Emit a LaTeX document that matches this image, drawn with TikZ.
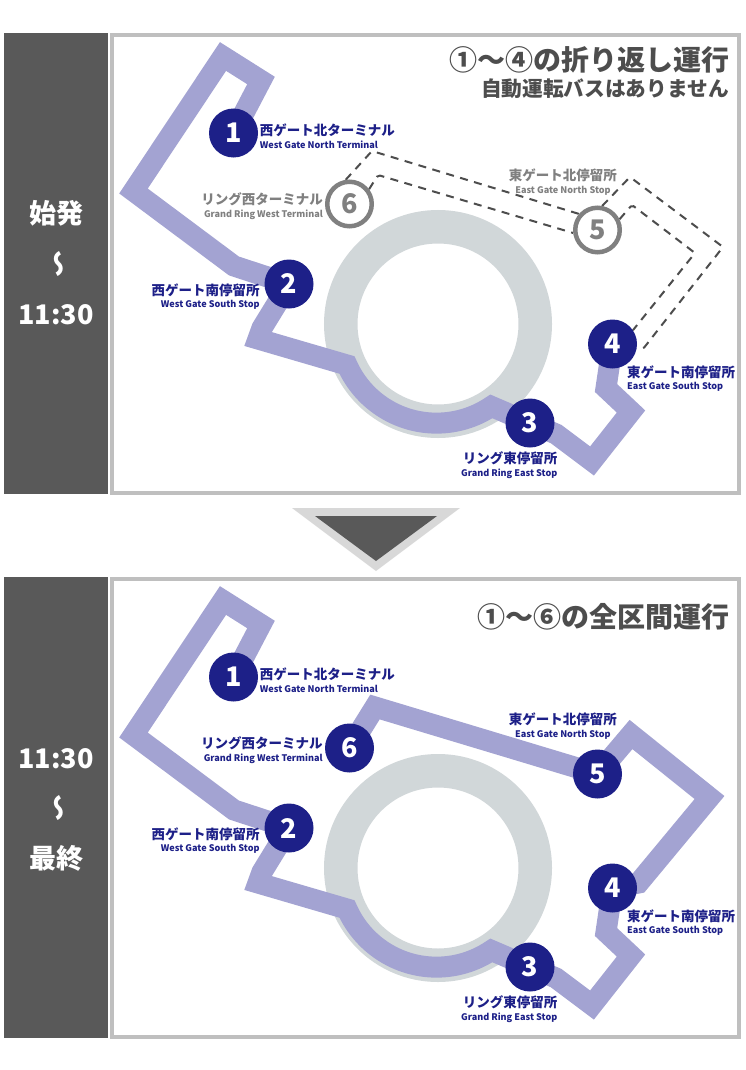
\documentclass[tikz,border=0pt]{standalone}
\usepackage{fontspec}
\setmainfont{Noto Sans CJK JP}
\usepackage{xcolor}
\usetikzlibrary{positioning,backgrounds}
\definecolor{navy}{HTML}{1D2088}
\definecolor{routec}{HTML}{A3A3D2}
\definecolor{ringc}{HTML}{D1D7D9}
\definecolor{darkc}{HTML}{595959}
\definecolor{edgec}{HTML}{BFBFBF}
\definecolor{offc}{HTML}{808080}
\definecolor{titlec}{HTML}{4D4D4D}
\begin{document}
\begin{tikzpicture}[x=1pt,y=-1pt,
	panel/.style={
		draw=edgec, line width=4pt, fill=white,
		minimum width=627pt, minimum height=458pt,
	},
	bar/.style={
		fill=darkc, minimum width=104pt, minimum height=461pt,
		inner sep=0pt,
	},
	bartext/.style={
		text=white, font=\bfseries\fontsize{27}{27}\selectfont, inner sep=0pt,
	},
	stopon/.style={
		circle, fill=navy, text=white, minimum size=49pt, inner sep=0pt,
		font=\bfseries\fontsize{27}{27}\selectfont,
	},
	stopoff/.style={
		circle, draw=offc, line width=4.5pt, fill=white, text=offc,
		minimum size=44.5pt, inner sep=0pt,
		font=\bfseries\fontsize{27}{27}\selectfont,
	},
	lbl/.style={
		text=navy, inner sep=0pt, align=#1,
		font=\bfseries\fontsize{13.5}{14}\selectfont,
	},
	title/.style={
		text=titlec, inner sep=0pt, anchor=east,
		font=\bfseries\fontsize{#1}{#1}\selectfont,
	},
	route/.style={draw=routec, line width=21pt, line join=miter, miter limit=10},
	ring/.style={draw=ringc, line width=33.5pt},
	off/.style={draw=titlec, line width=2pt, dash pattern=on 8pt off 6.5pt, rounded corners=2pt},
	]
	\newcommand{\eng}[1]{{\fontsize{9.1}{10}\selectfont #1}}
	\useasboundingbox (0,0) rectangle (745,1070);

	% upper panel
	\node[bar] (d1) at (56,263.5) {};
	\node[bartext] (f1) at (56,213) {始発};
	\node[bartext, rotate=90, yscale=-1] (w1) at (56,264) {〜};
	\node[bartext] (l1) at (56,315) {11:30};
	\node[title=28] (h1) at (730,60) {①〜④の折り返し運行};
	\node[title=20.7] (g1) at (729,88.5) {自動運転バスはありません};

	\node[stopon] (s1) at (233.5,133) {1};
	\node[stopon] (s2) at (289,284) {2};
	\node[stopon] (s3) at (530,423) {3};
	\node[stopon] (s4) at (612.5,344) {4};
	\node[stopoff] (s5) at (597.5,230) {5};
	\node[stopoff] (s6) at (349.5,204) {6};

	\node[lbl=left, right=1.5pt of s1, yshift=-3pt] (a1)
	{西ゲート北ターミナル\\[-1.5pt]\eng{West Gate North Terminal}};
	\node[lbl=right, left=4.5pt of s2, yshift=-12.5pt] (a2)
	{西ゲート南停留所\\[-1.5pt]\eng{West Gate South Stop}};
	\node[lbl=right, below left=11pt and -45pt of s3] (a3)
	{リング東停留所\\[-1.5pt]\eng{Grand Ring East Stop}};
	\node[lbl=left, below right=4pt and -3pt of s4] (a4)
	{東ゲート南停留所\\[-1.5pt]\eng{East Gate South Stop}};
	\node[lbl=center, above left=17.4pt and -37pt of s5, text=offc] (a5)
	{東ゲート北停留所\\[-1.5pt]\eng{East Gate North Stop}};
	\node[lbl=right, left=2pt of s6, yshift=-2pt, text=offc] (a6)
	{リング西ターミナル\\[-1.5pt]\eng{Grand Ring West Terminal}};

	% lower panel
	\node[bar] (d2) at (56,807.5) {};
	\node[bartext] (l2) at (56,758.5) {11:30};
	\node[bartext, rotate=90, yscale=-1] (w2) at (56,808) {〜};
	\node[bartext] (f2) at (56,858) {最終};
	\node[title=28] (h2) at (730,617) {①〜⑥の全区間運行};

	\node[stopon] (t1) at (233.5,677) {1};
	\node[stopon] (t2) at (289,828) {2};
	\node[stopon] (t3) at (530,967) {3};
	\node[stopon] (t4) at (612.5,888) {4};
	\node[stopon] (t5) at (597.5,774) {5};
	\node[stopon] (t6) at (349.5,748) {6};

	\node[lbl=left, right=1.5pt of t1, yshift=-3pt] (c1)
	{西ゲート北ターミナル\\[-1.5pt]\eng{West Gate North Terminal}};
	\node[lbl=right, left=4.5pt of t2, yshift=-12.5pt] (c2)
	{西ゲート南停留所\\[-1.5pt]\eng{West Gate South Stop}};
	\node[lbl=right, below left=11pt and -45pt of t3] (c3)
	{リング東停留所\\[-1.5pt]\eng{Grand Ring East Stop}};
	\node[lbl=left, below right=4pt and -3pt of t4] (c4)
	{東ゲート南停留所\\[-1.5pt]\eng{East Gate South Stop}};
	\node[lbl=center, above left=17.4pt and -37pt of t5] (c5)
	{東ゲート北停留所\\[-1.5pt]\eng{East Gate North Stop}};
	\node[lbl=right, left=2pt of t6, yshift=-2pt] (c6)
	{リング西ターミナル\\[-1.5pt]\eng{Grand Ring West Terminal}};

	% arrow between the panels
	\fill[edgec!60] (292,508) -- (460,508) -- (376,571) -- cycle;
	\fill[darkc] (315,516) -- (437,516) -- (376,561) -- cycle;

	\begin{scope}[on background layer]
		\node[panel] (p1) at (425.5,264) {};
		\node[panel] (p2) at (425.5,808) {};

		\draw[ring] (438,324) circle[radius=97.25];
		\draw[route] (s1.center) -- (261,80.5) -- (223,56.5) -- (133.5,191) -- (234,266)
		-- (s2.center) -- (262,328) -- (258,339) -- (347,365)
		arc[start angle=156, end angle=56, radius=98]
		-- (s3.center) -- (556,434) -- (592,461) -- (631,411.5) -- (606,388) -- (s4.center);
		\draw[off] (s6.99) -- (372,151) -- (s5.139);
		\draw[off] (s6.37) -- (378,175) -- (s5.187);
		\draw[off] (s5.79) -- (630,177) -- (723,247) -- (643,349) -- (s4.-10);
		\draw[off] (s5.26) -- (632,205) -- (695,253) -- (s4.34);

		\draw[ring] (438,868) circle[radius=97.25];
		\draw[route] (t1.center) -- (261,624.5) -- (223,600.5) -- (133.5,735) -- (234,810)
		-- (t2.center) -- (262,872) -- (258,883) -- (347,909)
		arc[start angle=156, end angle=56, radius=98]
		-- (t3.center) -- (556,978) -- (592,1005) -- (631,955.5) -- (606,932) -- (t4.center)
		-- (638.5,883) -- (709.5,797.5) -- (631,734.5) -- (t5.center) -- (375,707) -- (t6.center);
	\end{scope}
\end{tikzpicture}
\end{document}
